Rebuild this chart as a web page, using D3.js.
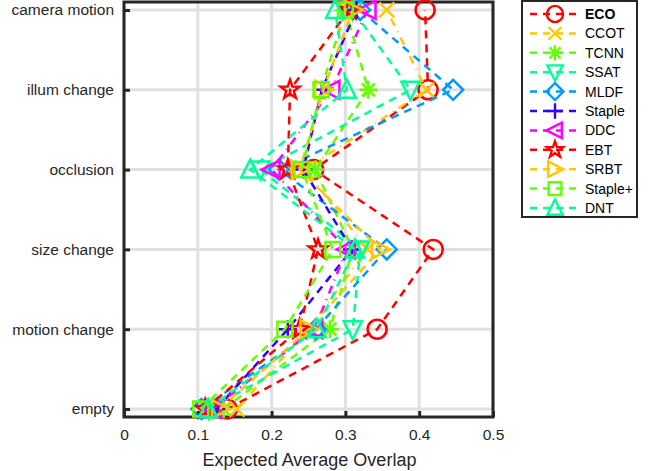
<!DOCTYPE html>
<html>
<head>
<meta charset="utf-8">
<script src="https://cdn.jsdelivr.net/npm/d3@7.9.0/dist/d3.min.js"></script>
<style>
  body { margin: 0; background: #fff; }
  text { font-family: "Liberation Sans", Arial, sans-serif; fill: #262626; }
</style>
</head>
<body>
<svg id="chart" width="650" height="471"></svg>
<script>
// categories bottom -> top
const categories = ['empty', 'motion change', 'size change', 'occlusion', 'illum change', 'camera motion'];
const trackers = ['ECO', 'CCOT', 'TCNN', 'SSAT', 'MLDF', 'Staple', 'DDC', 'EBT', 'SRBT', 'Staple+', 'DNT'];
const xTicks = [0, 0.1, 0.2, 0.3, 0.4, 0.5];

// expected average overlap per category (same order as categories)
const eco     = [0.140, 0.343, 0.419, 0.257, 0.412, 0.408];
const ccot    = [0.153, 0.250, 0.330, 0.245, 0.410, 0.356];
const tcnn    = [0.135, 0.279, 0.310, 0.259, 0.331, 0.300];
const ssat    = [0.115, 0.310, 0.320, 0.185, 0.388, 0.310];
const mldf    = [0.105, 0.260, 0.356, 0.210, 0.446, 0.320];
const staple  = [0.125, 0.222, 0.309, 0.243, 0.268, 0.315];
const ddc     = [0.120, 0.258, 0.302, 0.200, 0.281, 0.330];
const ebt     = [0.110, 0.238, 0.263, 0.222, 0.225, 0.305];
const srbt    = [0.130, 0.250, 0.347, 0.238, 0.270, 0.310];
const staplep = [0.104, 0.218, 0.283, 0.241, 0.267, 0.300];
const dnt     = [0.114, 0.261, 0.313, 0.171, 0.302, 0.286];

const series = [eco, ccot, tcnn, ssat, mldf, staple, ddc, ebt, srbt, staplep, dnt];
const colors = ['#ff0000', '#ffc800', '#66ff00', '#00ff99', '#0099ff', '#3300ff', '#ff00ff', '#ff0000', '#ffc800', '#66ff00', '#00ff99'];
const markers = ['circle', 'x', 'star6', 'tridown', 'diamond', 'plus', 'trileft', 'pentagram', 'triright', 'square', 'triup'];
const dashes = ['8,6', '8,6,1,6', '8,6', '8,6', '8,6', '8,6', '8,6,1,6', '8,6', '8,6', '8,6', '8,6'];

const svg = d3.select('#chart');
const mLeft = 124, mRight = 493, mTop = 2, mBottom = 417;

const x = d3.scaleLinear().domain([0, 0.5]).range([mLeft, mRight]);
const y = d3.scaleLinear().domain([0.9, 6.1]).range([mBottom, mTop]);

// grid
svg.append('g').selectAll('line').data(xTicks).join('line')
  .attr('x1', d => x(d)).attr('x2', d => x(d)).attr('y1', mTop).attr('y2', mBottom)
  .attr('stroke', '#e0e0e0').attr('stroke-width', 3);
svg.append('g').selectAll('line').data(categories).join('line')
  .attr('x1', mLeft).attr('x2', mRight).attr('y1', (d, i) => y(i + 1)).attr('y2', (d, i) => y(i + 1))
  .attr('stroke', '#e0e0e0').attr('stroke-width', 3);

// axes
const xAxis = d3.axisBottom(x).tickValues(xTicks).tickSize(-6).tickPadding(12)
  .tickFormat(d => d === 0 ? '0' : d3.format('.1f')(d));
const gx = svg.append('g').attr('transform', `translate(0,${mBottom})`).call(xAxis);
gx.select('.domain').remove();
gx.selectAll('line').attr('stroke', '#262626').attr('stroke-width', 3);
gx.selectAll('text').attr('font-size', 15.5).style('fill', '#262626');

const yAxis = d3.axisLeft(y).tickValues(d3.range(1, categories.length + 1)).tickSize(-6).tickPadding(10)
  .tickFormat(d => categories[d - 1]);
const gy = svg.append('g').attr('transform', `translate(${mLeft},0)`).call(yAxis);
gy.select('.domain').remove();
gy.selectAll('line').attr('stroke', '#262626').attr('stroke-width', 3);
gy.selectAll('text').attr('font-size', 15.5).style('fill', '#262626');

svg.append('rect').attr('x', mLeft).attr('y', mTop).attr('width', mRight - mLeft).attr('height', mBottom - mTop)
  .attr('fill', 'none').attr('stroke', '#262626').attr('stroke-width', 3);

svg.append('text').attr('x', (mLeft + mRight) / 2 + 1).attr('y', 466).attr('text-anchor', 'middle')
  .attr('font-size', 18).text('Expected Average Overlap');

// marker paths centred on 0,0
function markerPath(type) {
  const r = 9.5;
  switch (type) {
    case 'circle': return `M${r},0A${r},${r} 0 1,1 ${-r},0A${r},${r} 0 1,1 ${r},0Z`;
    case 'x': return `M-7.5,-7.5L7.5,7.5M-7.5,7.5L7.5,-7.5`;
    case 'plus': return `M-9,0L9,0M0,-9L0,9`;
    case 'star6': return `M-9,0L9,0M0,-9L0,9M-6.5,-6.5L6.5,6.5M-6.5,6.5L6.5,-6.5`;
    case 'square': return `M-7.5,-7.5H7.5V7.5H-7.5Z`;
    case 'diamond': return `M0,-10L10,0L0,10L-10,0Z`;
    case 'triup': return `M0,-10L9,8L-9,8Z`;
    case 'tridown': return `M0,10L9,-8L-9,-8Z`;
    case 'trileft': return `M-10,0L8,-9L8,9Z`;
    case 'triright': return `M10,0L-8,-9L-8,9Z`;
    case 'pentagram': {
      const pts = [];
      for (let k = 0; k < 10; k++) {
        const a = -Math.PI / 2 + k * Math.PI / 5;
        const rr = k % 2 === 0 ? 10 : 4;
        pts.push([rr * Math.cos(a), rr * Math.sin(a)]);
      }
      return 'M' + pts.map(p => p.join(',')).join('L') + 'Z';
    }
  }
}

const line = d3.line().x(d => x(d[0])).y(d => y(d[1]));
const plot = svg.append('g');
series.forEach((vals, i) => {
  const pts = vals.map((v, j) => [v, j + 1]);
  const g = plot.append('g');
  g.append('path').attr('d', line(pts)).attr('fill', 'none')
    .attr('stroke', colors[i]).attr('stroke-width', 2.5).attr('stroke-dasharray', dashes[i]);
  g.selectAll('path.m').data(pts).join('path').attr('class', 'm')
    .attr('transform', d => `translate(${x(d[0])},${y(d[1])})`)
    .attr('d', markerPath(markers[i])).attr('fill', 'none')
    .attr('stroke', colors[i]).attr('stroke-width', 2.5);
});

// legend
const lg = svg.append('g');
lg.append('rect').attr('x', 522).attr('y', 1).attr('width', 115).attr('height', 216)
  .attr('fill', '#fff').attr('stroke', '#262626').attr('stroke-width', 2);
trackers.forEach((name, i) => {
  const ly = 14 + i * 19.4;
  lg.append('line').attr('x1', 530).attr('x2', 578).attr('y1', ly).attr('y2', ly)
    .attr('stroke', colors[i]).attr('stroke-width', 2.5).attr('stroke-dasharray', '7,6');
  lg.append('path').attr('transform', `translate(555,${ly}) scale(0.85)`).attr('d', markerPath(markers[i]))
    .attr('fill', 'none').attr('stroke', colors[i]).attr('stroke-width', 2.8);
  lg.append('text').attr('x', 585).attr('y', ly + 5).attr('font-size', 14)
    .attr('font-weight', i === 0 ? 'bold' : 'normal').style('fill', '#000').text(name);
});
</script>
</body>
</html>
